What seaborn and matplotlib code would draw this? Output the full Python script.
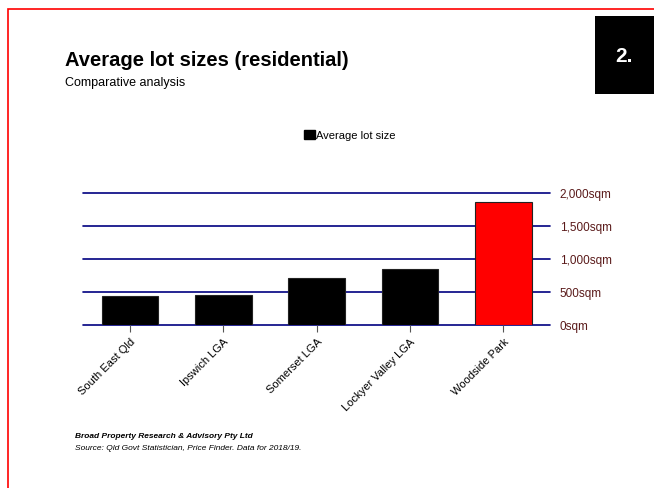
import matplotlib.pyplot as plt
import matplotlib.patches as mpatches
import pandas as pd
import seaborn as sns

areas = ['South East Qld', 'Ipswich LGA', 'Somerset LGA', 'Lockyer Valley LGA', 'Woodside Park']
lot_size = [430, 450, 703, 840, 1865]
bar_colors = ['#000000', '#000000', '#000000', '#000000', '#ff0000']
y_ticks = [0, 500, 1000, 1500, 2000]

sns.set_theme(style='white')
plt.rcParams['font.family'] = ['Liberation Sans', 'DejaVu Sans']
plt.rcParams['text.color'] = 'black'
plt.rcParams['xtick.color'] = 'black'

df = pd.DataFrame({'area': areas, 'size': lot_size})

fig = plt.figure(figsize=(6.54, 4.89), dpi=100)
ax = fig.add_axes([83.3 / 654, 0.334, 466.7 / 654, 0.2693])

sns.barplot(data=df, x='area', y='size', hue='area', palette=bar_colors, saturation=1,
            width=0.61, edgecolor='#222222', linewidth=0.8, legend=False, ax=ax)

ax.set_xlim(-0.5, len(areas) - 0.5)
ax.set_ylim(0, 2000)
ax.set_yticks(y_ticks)
ax.set_yticklabels([f'{v:,}sqm' for v in y_ticks], fontsize=8.5, color='#5a1a1a')
ax.yaxis.tick_right()
ax.tick_params(axis='y', length=0, pad=7)
for v in y_ticks:
    ax.axhline(v, color='#000080', lw=1.2, zorder=0, clip_on=False)
ax.set_axisbelow(True)

ax.set_xticks(range(len(areas)))
ax.set_xticklabels(areas, rotation=45, ha='right', rotation_mode='anchor', fontsize=8, color='black')
ax.tick_params(axis='x', bottom=True, length=5, width=0.8, color='#555555', pad=3)
ax.set_xlabel('')
ax.set_ylabel('')
for s in ax.spines.values():
    s.set_visible(False)

# page decoration
fig.patches.append(mpatches.Rectangle((8 / 654, -0.1), 1.0, 1 - 10 / 489 + 0.1,
                                      transform=fig.transFigure, fill=False,
                                      edgecolor='#ff0000', lw=1.2))
fig.patches.append(mpatches.Rectangle((595 / 654, 1 - 95 / 489), 0.2, 78 / 489,
                                      transform=fig.transFigure, facecolor='black',
                                      edgecolor='none'))
fig.text(624 / 654, 1 - 56 / 489, '2.', color='white', fontsize=15, fontweight='bold',
         ha='center', va='center')

fig.text(65 / 654, 1 - 61 / 489, 'Average lot sizes (residential)', fontsize=14.5,
         fontweight='bold', va='center', color='black')
fig.text(65 / 654, 1 - 83 / 489, 'Comparative analysis', fontsize=9, va='center', color='black')

handle = mpatches.Patch(facecolor='black', edgecolor='black')
fig.legend([handle], ['Average lot size'], loc='center', bbox_to_anchor=(350 / 654, 1 - 136 / 489),
           frameon=False, fontsize=8, handlelength=1.0, handleheight=0.9, handletextpad=0.1,
           labelcolor='black')

fig.text(75 / 654, 1 - 437 / 489, 'Broad Property Research & Advisory Pty Ltd', fontsize=6,
         fontweight='bold', style='italic', va='center', color='black')
fig.text(75 / 654, 1 - 449 / 489, 'Source: Qld Govt Statistician, Price Finder. Data for 2018/19.',
         fontsize=6, style='italic', va='center', color='black')

fig.savefig('out.png', dpi=100)
